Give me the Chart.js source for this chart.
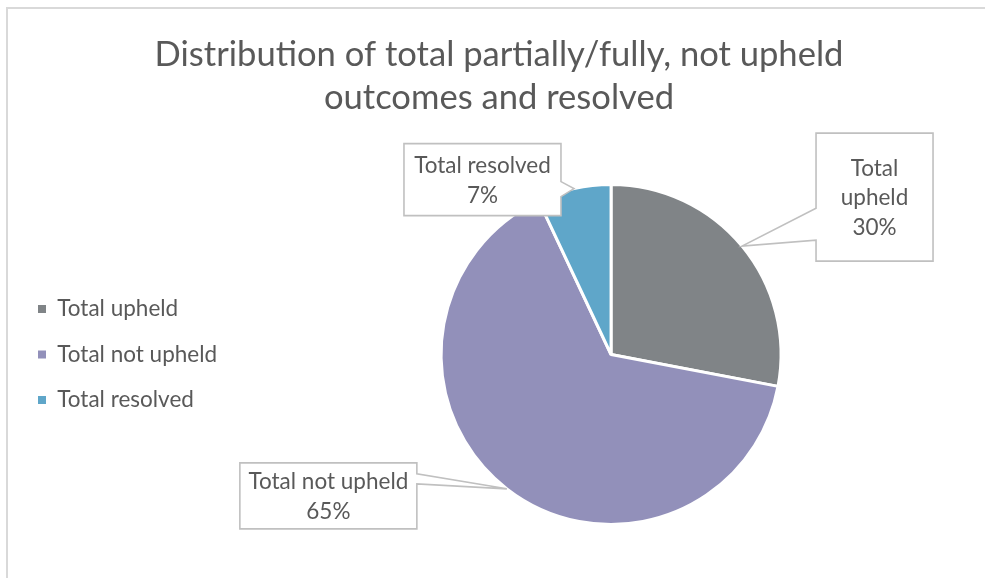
<!DOCTYPE html>
<html><head><meta charset="utf-8">
<script src="https://cdn.jsdelivr.net/npm/chart.js@4.4.1/dist/chart.umd.min.js"></script>
<style>
html,body{margin:0;padding:0;background:#fff;overflow:hidden;width:985px;height:578px;}
#frame{position:absolute;left:6px;top:7px;width:1000px;height:600px;border:2px solid #d9d9d9;box-sizing:border-box;}
#wrap{position:absolute;left:0;top:0;width:985px;height:578px;}
</style></head>
<body><div id="frame"></div><div id="wrap"><canvas id="c" width="985" height="578"></canvas></div>
<script>
// ---- data ----
const categories = ['Total upheld', 'Total not upheld', 'Total resolved'];
const values = [28, 65, 7];                       // slice sizes (angles measured on the picture)
const percentLabels = ['30%', '65%', '7%'];       // label text as printed on the picture
const colors = ['#808487', '#9290BA', '#5FA6C9'];
const titleLines = ['Distribution of total partially/fully, not upheld', 'outcomes and resolved'];

// ---- callout layout (relative to each slice's anchor point on the rim) ----
const calloutLayout = [
  {left: 74,   top: -113, w: 117, h: 128, side: 'left',  wedge: [75, 107]},
  {left: -267, top: -26,  w: 177, h: 66,  side: 'right', wedge: [11, 21]},
  {left: -170, top: -45,  w: 157, h: 72,  side: 'right', wedge: [38, 53]}
];
const FONT = 'Lato';
const TEXT = '#595959';
const LABEL_SIZE = 22.5;

function wrapText(ctx, text, maxW) {
  const words = text.split(' ');
  const lines = [];
  let cur = '';
  words.forEach(w => {
    const t = cur ? cur + ' ' + w : w;
    if (cur && ctx.measureText(t).width > maxW) { lines.push(cur); cur = w; } else { cur = t; }
  });
  if (cur) lines.push(cur);
  return lines;
}

const calloutPlugin = {
  id: 'callouts',
  afterDatasetsDraw(chart) {
    const ctx = chart.ctx;
    const meta = chart.getDatasetMeta(0);
    meta.data.forEach((arc, i) => {
      const p = arc.getProps(['x', 'y', 'startAngle', 'endAngle', 'outerRadius'], true);
      const mid = (p.startAngle + p.endAngle) / 2;
      const ax = p.x + Math.cos(mid) * p.outerRadius;
      const ay = p.y + Math.sin(mid) * p.outerRadius;
      const L = calloutLayout[i];
      const bx = ax + L.left, by = ay + L.top, bw = L.w, bh = L.h;
      ctx.save();
      ctx.beginPath();
      ctx.moveTo(bx, by);
      ctx.lineTo(bx + bw, by);
      if (L.side === 'right') {
        ctx.lineTo(bx + bw, by + L.wedge[0]);
        ctx.lineTo(ax, ay);
        ctx.lineTo(bx + bw, by + L.wedge[1]);
      }
      ctx.lineTo(bx + bw, by + bh);
      ctx.lineTo(bx, by + bh);
      if (L.side === 'left') {
        ctx.lineTo(bx, by + L.wedge[1]);
        ctx.lineTo(ax, ay);
        ctx.lineTo(bx, by + L.wedge[0]);
      }
      ctx.closePath();
      ctx.fillStyle = '#ffffff';
      ctx.fill();
      ctx.lineWidth = 1.6;
      ctx.strokeStyle = '#c0c0c0';
      ctx.lineJoin = 'miter';
      ctx.stroke();
      ctx.font = LABEL_SIZE + 'px ' + FONT;
      ctx.fillStyle = TEXT;
      ctx.textAlign = 'center';
      ctx.textBaseline = 'middle';
      const lines = wrapText(ctx, categories[i], bw - 10).concat([percentLabels[i]]);
      const lh = 29.5;
      const cy = by + bh / 2 + 1;
      lines.forEach((t, k) => ctx.fillText(t, bx + bw / 2, cy + (k - (lines.length - 1) / 2) * lh));
      ctx.restore();
    });
  }
};

// empty layout box between the legend and the pie (keeps the pie to the right of centre)
const spacerPlugin = {
  id: 'spacer',
  beforeInit(chart) {
    const box = {
      position: 'left', weight: 0, fullSize: false, options: {},
      left: 0, top: 0, right: 0, bottom: 0, width: 0, height: 0,
      isHorizontal() { return false; },
      update(maxWidth, maxHeight) { this.width = 12; this.height = maxHeight; },
      getPadding() { return {left: 0, right: 0, top: 0, bottom: 0}; },
      draw() {}
    };
    Chart.layouts.addBox(chart, box);
  }
};

function build() {
  new Chart(document.getElementById('c'), {
    type: 'pie',
    data: {
      labels: categories,
      datasets: [{data: values, backgroundColor: colors, borderColor: '#ffffff', borderWidth: 3}]
    },
    options: {
      responsive: false,
      animation: false,
      layout: {padding: {left: 15, right: 2, top: 8, bottom: 52}},
      plugins: {
        title: {
          display: true, text: titleLines, color: TEXT,
          font: {family: FONT, size: 34.6, weight: 'normal', lineHeight: 1.243},
          padding: {top: 25, bottom: 64}
        },
        legend: {
          position: 'left', align: 'center', fullSize: false,
          labels: {
            boxWidth: 8, boxHeight: 8, padding: 23, color: TEXT, font: {family: FONT, size: LABEL_SIZE},
            generateLabels(chart) {
              const items = Chart.overrides.pie.plugins.legend.labels.generateLabels(chart);
              items.forEach(it => { it.lineWidth = 0; it.strokeStyle = it.fillStyle; });
              return items;
            }
          }
        },
        tooltip: {enabled: false}
      }
    },
    plugins: [spacerPlugin, calloutPlugin]
  });
}
Promise.all([document.fonts.load('22px Lato'), document.fonts.load('30px Lato')]).then(build, build);
</script>
</body></html>
